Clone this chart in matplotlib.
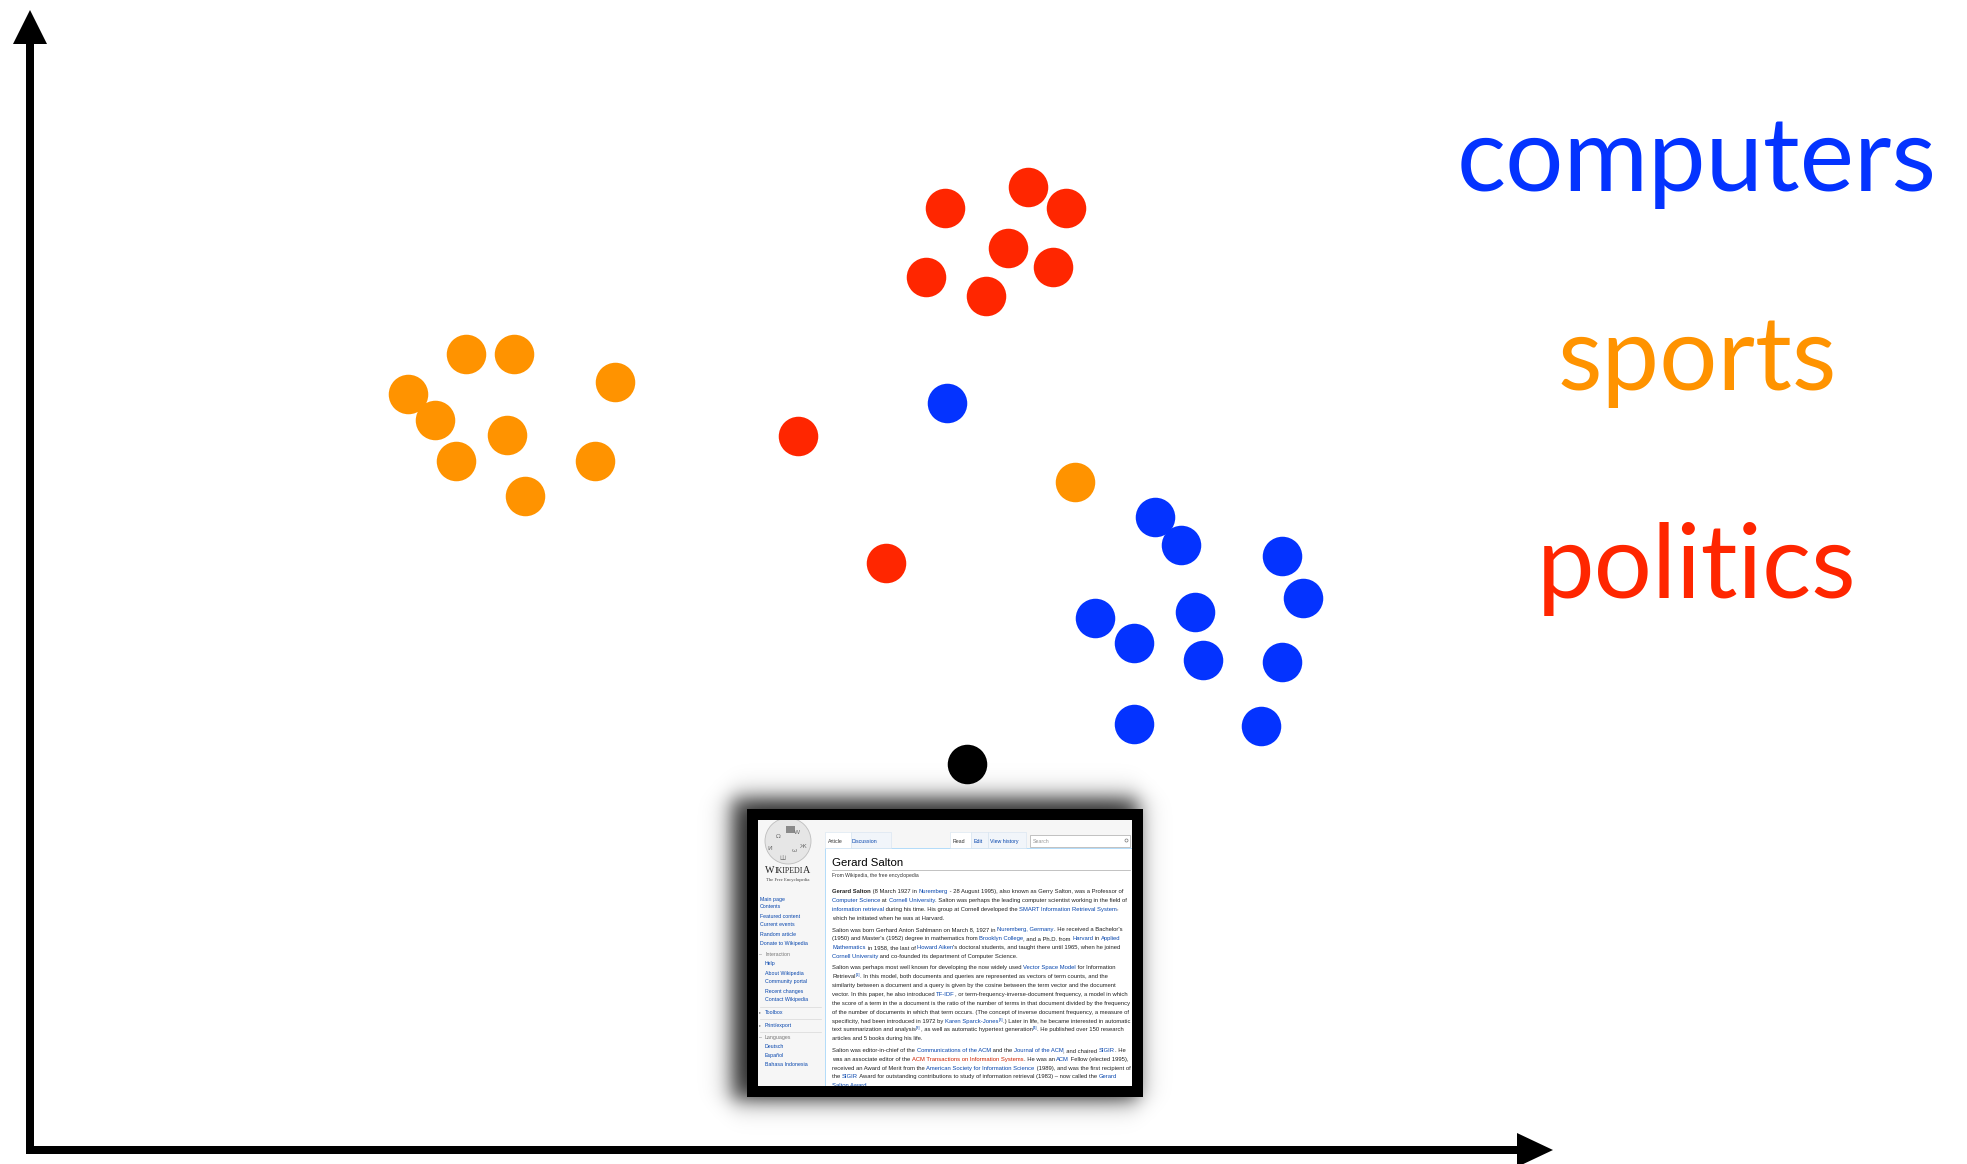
import re
import numpy as np
import matplotlib
matplotlib.use("Agg")
import matplotlib.pyplot as plt
from matplotlib.patches import Rectangle, Circle, FancyArrow

# ---- data: documents in a 2-d "topic" space (0..100 on both axes) ----
categories = ["computers", "sports", "politics"]
cat_colors = ["#0433FF", "#FF9300", "#FF2600"]

computers_x = [60.2, 73.9, 75.6, 82.2, 83.6, 69.9, 76.5, 72.5, 77.0, 82.2, 72.5, 80.8]
computers_y = [65.5, 55.5, 53.1, 52.1, 48.4, 46.7, 47.2, 44.5, 43.0, 42.8, 37.4, 37.2]

sports_x = [28.6, 31.8, 38.4, 24.8, 26.6, 31.3, 28.0, 37.1, 32.5, 68.6]
sports_y = [69.8, 69.8, 67.4, 66.3, 64.0, 62.7, 60.4, 60.4, 57.4, 58.6]

politics_x = [65.5, 60.1, 68.0, 64.2, 58.8, 67.2, 62.8, 50.4, 56.2]
politics_y = [84.5, 82.6, 82.6, 79.1, 76.6, 77.5, 74.9, 62.6, 51.5]

query_x = [61.5]
query_y = [33.9]

# ---- text of the wikipedia page thumbnail ----
# {..} = link, <..> = red link, *..* = bold, ^..^ = footnote
wiki_paragraphs = [
    ["*Gerard Salton* (8 March 1927 in {Nuremberg} - 28 August 1995), also known as Gerry Salton, was a Professor of",
     "{Computer Science} at {Cornell University}. Salton was perhaps the leading computer scientist working in the field of",
     "{information retrieval} during his time. His group at Cornell developed the {SMART Information Retrieval System},",
     "which he initiated when he was at Harvard."],
    ["Salton was born Gerhard Anton Sahlmann on March 8, 1927 in {Nuremberg, Germany}. He received a Bachelor's",
     "(1950) and Master's (1952) degree in mathematics from {Brooklyn College}, and a Ph.D. from {Harvard} in {Applied}",
     "{Mathematics} in 1958, the last of {Howard Aiken}'s doctoral students, and taught there until 1965, when he joined",
     "{Cornell University} and co-founded its department of Computer Science."],
    ["Salton was perhaps most well known for developing the now widely used {Vector Space Model} for Information",
     "Retrieval^[1]^. In this model, both documents and queries are represented as vectors of term counts, and the",
     "similarity between a document and a query is given by the cosine between the term vector and the document",
     "vector. In this paper, he also introduced {TF-IDF}, or term-frequency-inverse-document frequency, a model in which",
     "the score of a term in the a document is the ratio of the number of terms in that document divided by the frequency",
     "of the number of documents in which that term occurs. (The concept of inverse document frequency, a measure of",
     "specificity, had been introduced in 1972 by {Karen Sparck-Jones}^[2]^.) Later in life, he became interested in automatic",
     "text summarization and analysis^[3]^, as well as automatic hypertext generation^[4]^. He published over 150 research",
     "articles and 5 books during his life."],
    ["Salton was editor-in-chief of the {Communications of the ACM} and the {Journal of the ACM}, and chaired {SIGIR}. He",
     "was an associate editor of the <ACM Transactions on Information Systems>. He was an {ACM} Fellow (elected 1995),",
     "received an Award of Merit from the {American Society for Information Science} (1989), and was the first recipient of",
     "the {SIGIR} Award for outstanding contributions to study of information retrieval (1983) \u2013 now called the {Gerard}",
     "{Salton Award}."],
]

sidebar = [("Main page", "link", 899), ("Contents", "link", 907), ("Featured content", "link", 916),
           ("Current events", "link", 925), ("Random article", "link", 934), ("Donate to Wikipedia", "link", 943),
           ("Interaction", "head", 955), ("Help", "sub", 964), ("About Wikipedia", "sub", 973),
           ("Community portal", "sub", 982), ("Recent changes", "sub", 991), ("Contact Wikipedia", "sub", 1000),
           ("Toolbox", "fold", 1012), ("Print/export", "fold", 1025), ("Languages", "head", 1038),
           ("Deutsch", "sub", 1046), ("Espa\u00f1ol", "sub", 1055), ("Bahasa Indonesia", "sub", 1064)]

LINK = "#0645AD"
REDLINK = "#CC2200"
TXT = "#222222"

W, H = 1967, 1164
fig = plt.figure(figsize=(W / 100, H / 100), dpi=100)

# scatter axes, origin at the corner of the drawn axes arrows
ax = fig.add_axes([30 / W, (H - 1150) / H, 1523 / W, 1140 / H])
ax.set_xlim(0, 100)
ax.set_ylim(0, 100)
ax.set_axis_off()
ax.scatter(politics_x, politics_y, s=810, c=cat_colors[2], linewidths=0, zorder=3)
ax.scatter(sports_x, sports_y, s=810, c=cat_colors[1], linewidths=0, zorder=3)
ax.scatter(computers_x, computers_y, s=810, c=cat_colors[0], linewidths=0, zorder=3)
ax.scatter(query_x, query_y, s=810, c="black", linewidths=0, zorder=3)

# overlay in pixel units for arrows, labels and the thumbnail frame
ov = fig.add_axes([0, 0, 1, 1])
ov.set_xlim(0, W)
ov.set_ylim(H, 0)
ov.set_axis_off()
ov.add_patch(FancyArrow(30, 1154, 0, -1144, width=8, head_width=34, head_length=34,
                        length_includes_head=True, color="black", lw=0))
ov.add_patch(FancyArrow(26, 1150, 1527, 0, width=8, head_width=34, head_length=36,
                        length_includes_head=True, color="black", lw=0))

for name, col, yb in zip(categories, cat_colors, [191, 390, 598]):
    ov.text(1697, yb, name, color=col, fontsize=74, family="Lato", ha="center", va="baseline")

# soft drop shadow behind the screenshot
gx = np.arange(670, 1200) + 0.5
gy = np.arange(730, 1150) + 0.5
GX, GY = np.meshgrid(gx, gy)
soft = lambda z: 0.5 * (1 + np.tanh(z))
sig = 13.0
alpha = (soft((GX - 732) / sig) * soft((1138 - GX) / sig) *
         soft((GY - 798) / sig) * soft((1100 - GY) / sig)) * 0.85
rgba = np.zeros(GX.shape + (4,))
rgba[..., 3] = alpha
ov.imshow(rgba, extent=(670, 1200, 1150, 730), origin="upper", zorder=1, interpolation="bilinear")
ov.set_xlim(0, W)
ov.set_ylim(H, 0)
ov.add_patch(Rectangle((747, 809), 396, 288, fc="black", lw=0, zorder=2))

# ---- the page itself ----
wk = fig.add_axes([758 / W, (H - 1086) / H, 374 / W, 266 / H])
wk.set_xlim(758, 1132)
wk.set_ylim(1086, 820)
wk.set_axis_off()
wk.add_patch(Rectangle((758, 820), 374, 266, fc="#F6F6F6", lw=0))
wk.add_patch(Rectangle((825, 848), 310, 240, fc="white", ec="#A7D7F9", lw=0.6))
for x0, w0, fc in [(825, 26, "white"), (851, 40, "#F1F5FA"), (950, 21, "white"),
                   (971, 17, "#F1F5FA"), (988, 38, "#F1F5FA")]:
    wk.add_patch(Rectangle((x0, 832), w0, 16, fc=fc, ec="#D5E3F0", lw=0.4))
wk.add_patch(Rectangle((1030, 835), 100, 12, fc="white", ec="#AAAAAA", lw=0.5))
wk.plot([1126], [840], marker="o", ms=2.2, mfc="none", mec="#777777", mew=0.5)

r = fig.canvas.get_renderer()
_bar = {}


def text_w(s, fs, wt="normal", fam="Liberation Sans"):
    key = (fs, wt, fam)
    if key not in _bar:
        t = wk.text(0, 0, "||", fontsize=fs, weight=wt, family=fam)
        _bar[key] = t.get_window_extent(r).width
        t.remove()
    t = wk.text(0, 0, "|" + s + "|", fontsize=fs, weight=wt, family=fam)
    w = t.get_window_extent(r).width
    t.remove()
    return w - _bar[key]


pat = re.compile(r"\{([^}]*)\}|<([^>]*)>|\*([^*]*)\*|\^([^\^]*)\^|([^{<*\^]+)")


def draw_line(x, y, line, fs):
    for m in pat.finditer(line):
        link, red, bold, sup, plain = m.groups()
        col, wt, size, dy = TXT, "normal", fs, 0
        if link is not None:
            s, col = link, LINK
        elif red is not None:
            s, col = red, REDLINK
        elif bold is not None:
            s, wt = bold, "bold"
        elif sup is not None:
            s, col, size, dy = sup, LINK, fs * 0.7, -2
        else:
            s = plain
        wk.text(x, y + dy, s, fontsize=size, color=col, weight=wt, family="Liberation Sans",
                va="baseline", ha="left", clip_on=True)
        x += text_w(s, size, wt)


# body text
yb = 893
for para in wiki_paragraphs:
    for line in para:
        draw_line(832, yb, line, 4.2)
        yb += 8.85
    yb += 2.8

wk.text(832, 866, "Gerard Salton", fontsize=8.2, family="Liberation Sans", color="black", va="baseline")
wk.plot([832, 1130], [870, 870], color="#AAAAAA", lw=0.5)
wk.text(832, 877, "From Wikipedia, the free encyclopedia", fontsize=3.6, family="Liberation Sans",
        color="#333333", va="baseline")

# tabs and search
for lab, xt, col in [("Article", 828, "#333333"), ("Discussion", 852, LINK), ("Read", 953, "#333333"),
                     ("Edit", 974, LINK), ("View history", 990, LINK)]:
    wk.text(xt, 843, lab, fontsize=3.8, family="Liberation Sans", color=col, va="baseline")
wk.text(1033, 843, "Search", fontsize=3.8, family="Liberation Sans", color="#999999", va="baseline")

# logo
wk.add_patch(Circle((788, 841), 23, fc="#E6E6E6", ec="#BDBDBD", lw=0.6))
for g, gx0, gy0 in [("\u03a9", 778, 836), ("W", 797, 832), ("\u0418", 770, 848),
                    ("\u03c9", 794, 851), ("\u5c71", 782, 858), ("\u0416", 803, 846)]:
    wk.text(gx0, gy0, g, fontsize=4.5, color="#6E6E6E", family=["DejaVu Sans", "Noto Sans CJK SC"],
            va="center", ha="center")
wk.add_patch(Rectangle((786, 826), 9, 7, fc="#8A8A8A", lw=0))

logo = [("W", 7.2), ("IKIPEDI", 5.7), ("A", 7.2)]
tot = sum(text_w(s, f, fam="Liberation Serif") for s, f in logo)
xl = 788 - tot / 2
for s, f in logo:
    wk.text(xl, 873, s, fontsize=f, family="Liberation Serif", color="#222222", va="baseline")
    xl += text_w(s, f, fam="Liberation Serif")
wk.text(788, 881, "The Free Encyclopedia", fontsize=3.4, family="Liberation Serif", color="#444444",
        ha="center", va="baseline")

# sidebar
for lab, kind, ys in sidebar:
    if kind == "link":
        wk.text(760, ys + 1.5, lab, fontsize=3.8, family="Liberation Sans", color=LINK, va="baseline")
    elif kind == "sub":
        wk.text(765, ys + 1.5, lab, fontsize=3.8, family="Liberation Sans", color=LINK, va="baseline")
    elif kind == "head":
        wk.text(759, ys + 1.5, "\u2013", fontsize=3.8, family="Liberation Sans", color="#777777", va="baseline")
        wk.text(765, ys + 1.5, lab, fontsize=3.8, family="Liberation Sans", color="#777777", va="baseline")
    else:
        wk.text(759, ys + 1.5, "\u25b8", fontsize=3.0, family="DejaVu Sans", color="#777777", va="baseline")
        wk.text(765, ys + 1.5, lab, fontsize=3.8, family="Liberation Sans", color=LINK, va="baseline")
for ysep in [1007, 1019, 1032]:
    wk.plot([760, 821], [ysep, ysep], color="#D8D8D8", lw=0.5)

fig.savefig("out.png", dpi=100)
